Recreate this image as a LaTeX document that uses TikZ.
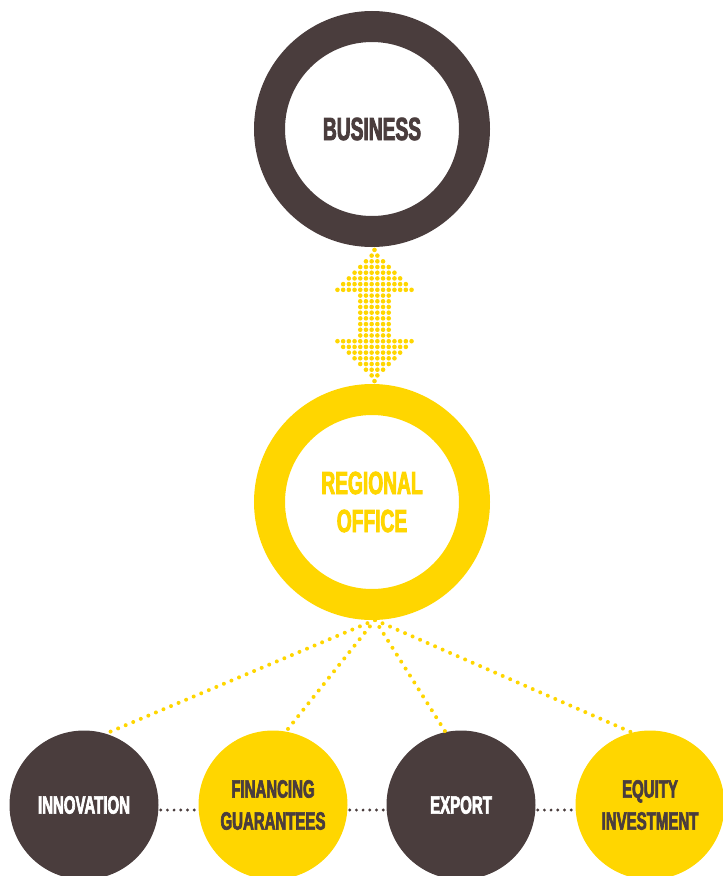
\documentclass[tikz,border=0pt]{standalone}
\usepackage{fontspec}
\usepackage{xcolor}
\usepackage{tikz}
\newfontfamily\capfont[FakeStretch=0.6,FakeBold=2.6]{Liberation Sans}
\definecolor{nau}{HTML}{4A3D3D}
\definecolor{vang}{HTML}{FFD600}

\begin{document}
\begin{tikzpicture}[x=1pt,y=-1pt,
	ring/.style={circle,draw=#1,line width=31pt,minimum size=205pt,inner sep=0pt,
		text=#1,align=center,font=\capfont\bfseries\fontsize{32}{38}\selectfont},
	ball/.style={circle,fill=#1,minimum size=149pt,inner sep=0pt,
		align=center,font=\capfont\bfseries\fontsize{25}{32}\selectfont},
	fan/.style={draw=vang,line width=4pt,line cap=round,dash pattern=on 0pt off 8.2pt},
	chain/.style={draw=nau,line width=3.2pt,line cap=round,dash pattern=on 0pt off 6.7pt,
		shorten <=2pt,shorten >=2pt},
	dot/.style={fill=vang}]
			\useasboundingbox (0,0) rectangle (723,876);
			% Vẽ vòng tròn
			\node[ring=nau] (bus) at (372,129) {BUSINESS};
			\node[ring=vang] (reg) at (372,502) {REGIONAL\\OFFICE};
			% Vẽ mũi tên
			\path (bus.south) -- (reg.north) coordinate[pos=0.5] (mid);
			\begin{scope}[shift={(mid)},xshift=2.5pt]
			\foreach \k in {1,...,7}{
				\pgfmathtruncatemacro\n{2*\k}
				\foreach \i in {1,...,\n}{
					\fill[dot] ({(\i-\k-0.5)*5.7},{-59.9+(\k-1)*5.7}) circle (2.3pt);
					\fill[dot] ({(\i-\k-0.5)*5.7},{59.9-(\k-1)*5.7}) circle (2.3pt);
				}
			}
			\foreach \r in {0,...,7}
			\foreach \i in {1,...,6}
			\fill[dot] ({(\i-3.5)*5.7},{-19.95+\r*5.7}) circle (2.3pt);
			\fill[dot] (0,-65.6) circle (2.3pt);
			\fill[dot] (0,65.6) circle (2.3pt);
			\end{scope}
			% Vẽ các nhánh
			\node[ball=nau,text=white] (inno) at (84,805) {INNOVATION};
			\node[ball=vang,text=nau] (fin) at (273,805) {FINANCING\\GUARANTEES};
			\node[ball=nau,text=white] (exp) at (461,805) {EXPORT};
			\node[ball=vang,text=nau] (equ) at (650,805) {EQUITY\\INVESTMENT};
			\draw[fan] ([xshift=3pt]reg.south) -- (inno.73);
			\draw[fan] ([xshift=3pt]reg.south) -- (fin.80);
			\draw[fan] ([xshift=3pt]reg.south) -- (exp.102);
			\draw[fan] ([xshift=3pt]reg.south) -- (equ.104);
			\draw[chain] ([yshift=-5pt]inno.east) -- ([yshift=-5pt]fin.west);
			\draw[chain] ([yshift=-5pt]fin.east) -- ([yshift=-5pt]exp.west);
			\draw[chain] ([yshift=-5pt]exp.east) -- ([yshift=-5pt]equ.west);
		\end{tikzpicture}
\end{document}
